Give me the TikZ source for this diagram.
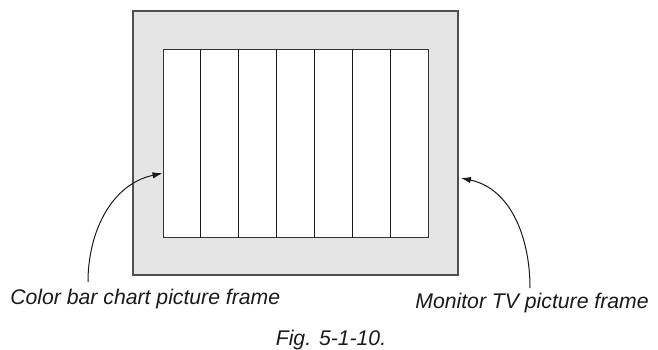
\documentclass[tikz,border=0pt]{standalone}
\usepackage{fontspec}
\setmainfont{Liberation Sans}
\usetikzlibrary{arrows.meta, positioning, calc}
\definecolor{grisMarco}{HTML}{E5E5E5}
\definecolor{grisBorde}{HTML}{505050}
\definecolor{negroLinea}{HTML}{1A1A1A}
\definecolor{grisLinea}{HTML}{333333}
\tikzset{
  cajaMonitor/.style={
    draw=grisBorde, line width=0.9pt, fill=grisMarco,
    minimum width=162.5pt, minimum height=132pt, inner sep=0pt
  },
  cajaBarras/.style={
    draw=grisLinea, line width=0.5pt, fill=white,
    minimum width=132.5pt, minimum height=94.25pt, inner sep=0pt
  },
  lineaBarra/.style={negroLinea, line width=0.5pt},
  flecha/.style={-{Latex[length=5pt, width=3.2pt]}, line width=0.5pt, negroLinea},
  etiqueta/.style={font=\fontsize{10.6}{12}\selectfont\itshape, text=negroLinea,
    inner sep=0pt},
}
\begin{document}
\begin{tikzpicture}[x=0.5pt, y=-0.5pt]
    \useasboundingbox (0,0) rectangle (658,349);
    \node[cajaMonitor] (monitor) at (295.5,143) {};
    \node[cajaBarras] (barras) at (295.5,143.25) {};
    % barras de color
    \foreach \i in {1,...,6}
      \draw[lineaBarra] ($(barras.north west)!\i/7!(barras.north east)$)
        -- ($(barras.south west)!\i/7!(barras.south east)$);
    \node[etiqueta, anchor=base west] (txtBarras) at (10,304) {Color bar chart picture frame};
    \node[etiqueta, anchor=base west] (txtMonitor) at (415,308) {Monitor TV picture frame};
    \node[etiqueta, anchor=base] (pie) at (331,345) {Fig. 5-1-10.};
    \coordinate (inicioBarras) at (88,282);
    \coordinate (inicioMonitor) at (530,288);
    \draw[flecha] (inicioBarras) to[out=90, in=192] ($(barras.west)+(0,30)$);
    \draw[flecha] (inicioMonitor) to[out=90, in=-12] ($(monitor.east)+(2,35)$);
  \end{tikzpicture}
\end{document}
